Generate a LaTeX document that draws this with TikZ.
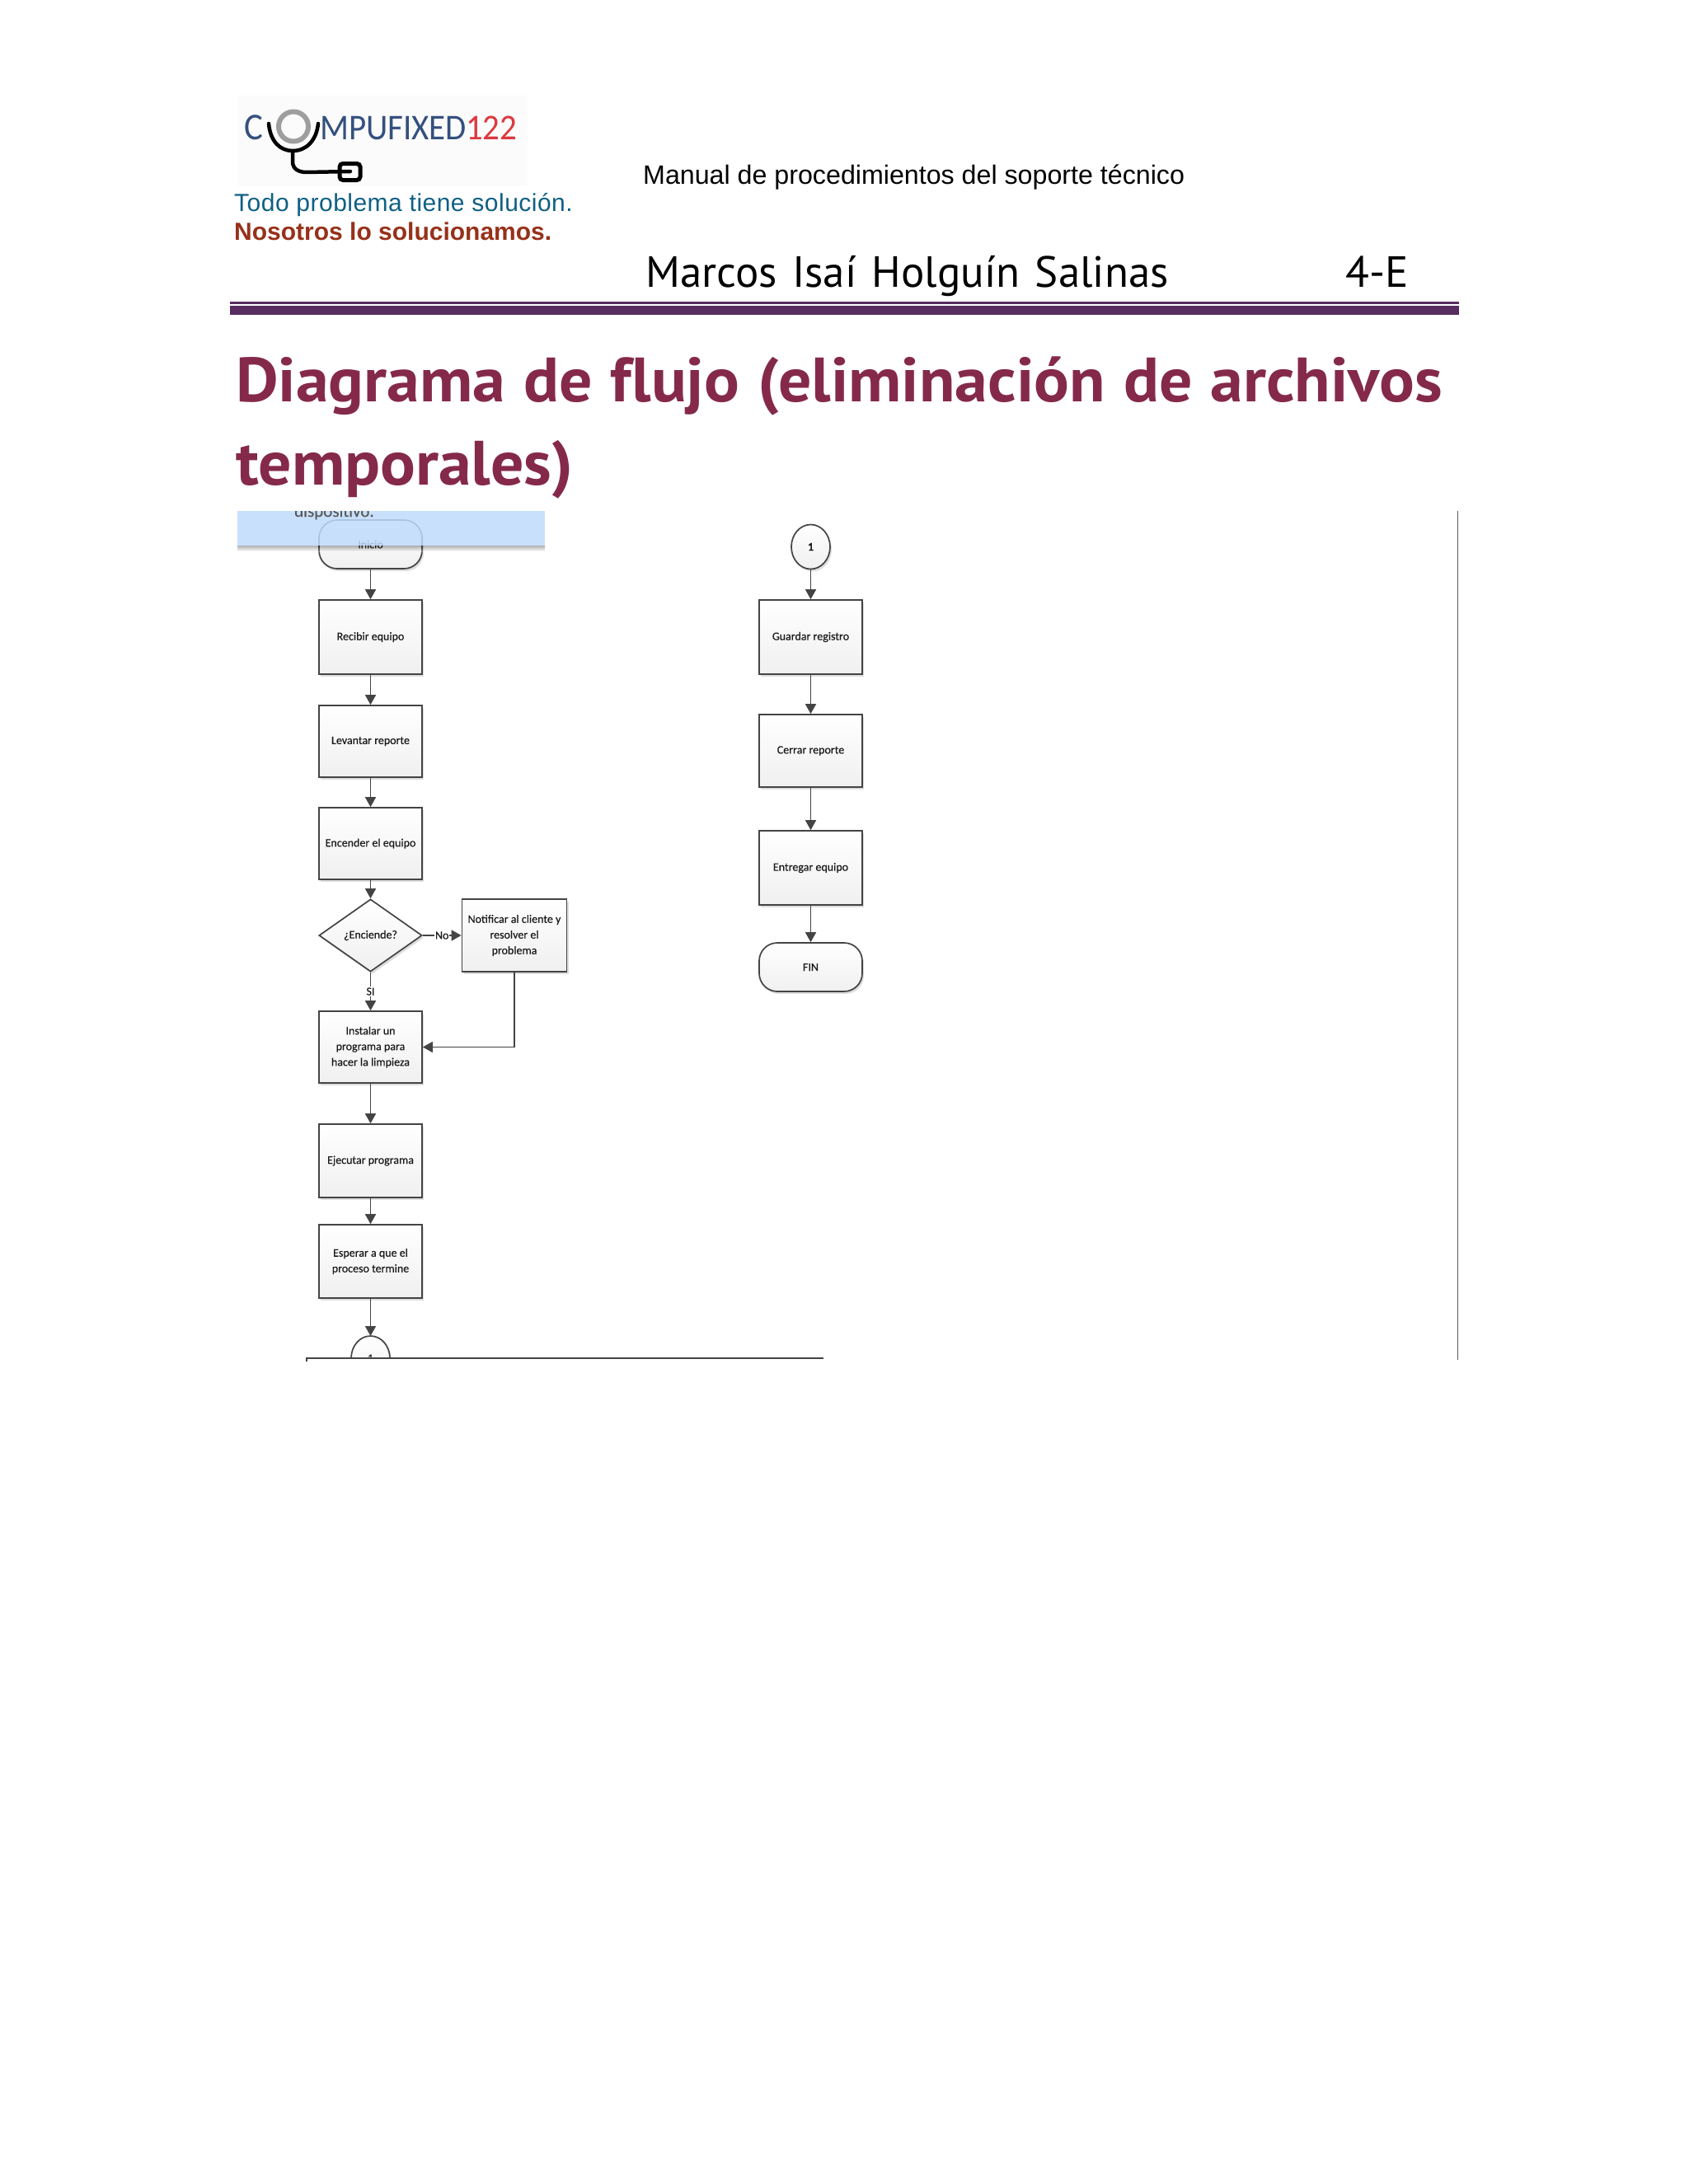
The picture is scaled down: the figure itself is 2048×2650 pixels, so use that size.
\documentclass[tikz,border=0pt]{standalone}
\usepackage{fontspec}
\setmainfont{Liberation Sans}
\newfontfamily\boxfont{Carlito}[FakeBold=0.25]
\newfontfamily\logofont{Carlito}[FakeStretch=0.93]
\newfontfamily\headfont{PT Sans}[Ligatures=NoCommon,WordSpace=1.3]
\newfontfamily\titlefont{PT Sans}[Ligatures=NoCommon,FakeStretch=1.05,WordSpace=1.1]
\newfontfamily\tagfont{Liberation Sans}[LetterSpace=1.6]
\usetikzlibrary{arrows.meta,shapes.geometric,shadows,calc}
\definecolor{edgeC}{HTML}{444444}
\definecolor{ruleC}{HTML}{572C5F}
\definecolor{titleC}{HTML}{85294B}
\definecolor{tealC}{HTML}{0F6084}
\definecolor{rustC}{HTML}{97311A}
\definecolor{navyC}{HTML}{34507F}
\definecolor{redC}{HTML}{DB3A3F}
\definecolor{bandC}{HTML}{BFDBFB}
\tikzset{
  x=1pt,y=-1pt,
  softshadow/.style={drop shadow={shadow xshift=2pt,shadow yshift=-3pt,fill=black,opacity=.13}},
  flowbase/.style={draw=edgeC,line width=1.7pt,top color=white,bottom color=black!6,text=black!90,align=center,
    font=\boxfont\fontsize{14}{19}\selectfont,softshadow,inner sep=0pt},
  procbox/.style={flowbase,rectangle,minimum width=125pt},
  termbox/.style={flowbase,rectangle,rounded corners=22pt,minimum width=125pt,minimum height=59pt},
  decbox/.style={flowbase,diamond,minimum width=125pt,minimum height=88pt,aspect=1.42},
  connbox/.style={flowbase,ellipse,minimum width=47pt,minimum height=54pt},
  flowarrow/.style={draw=edgeC,line width=1.7pt,-{Triangle[length=12pt,width=13pt]}},
  flowlabel/.style={font=\boxfont\fontsize{14}{19}\selectfont,text=black!90,fill=white,inner sep=1pt},
  plain/.style={inner sep=0pt,anchor=base west},
}
\begin{document}
\begin{tikzpicture}
\useasboundingbox (0,0) rectangle (2048,2650);
\fill[white] (0,0) rectangle (2048,2650);
% logo
\fill[black!1.5] (288,116) rectangle (640,225);
\node[plain,text=navyC,font=\logofont\fontsize{46}{46}\selectfont] (logoc) at (296,169) {C};
\node[plain,text=navyC,font=\logofont\fontsize{44}{44}\selectfont] (logom) at (388,169) {MPUFIXED};
\node[plain,text=redC,font=\logofont\fontsize{44}{44}\selectfont] (logor) at (565,169) {122};
\draw[black!38,line width=6pt] (356,153.5) circle[radius=18];
\draw[black,line width=4.5pt,line cap=round] (326,150) .. controls (328,172) and (340,183) .. (355,183) .. controls (372,183) and (384,170) .. (386,150);
\draw[black,line width=4.5pt,line cap=round] (355,183) -- (355,196) .. controls (355,205) and (362,209) .. (372,209) -- (425,208);
\draw[black,line width=5pt,rounded corners=4pt] (412,198.5) rectangle (437,218.5);
% header text
\node[plain,text=tealC,font=\tagfont\fontsize{30}{30}\selectfont] (tag1) at (284,256) {Todo problema tiene solución.};
\node[plain,text=rustC,font=\bfseries\fontsize{30}{30}\selectfont] (tag2) at (284,291) {Nosotros lo solucionamos.};
\node[plain,text=black,font=\fontsize{32.2}{32}\selectfont] (manual) at (780,223) {Manual de procedimientos del soporte técnico};
\node[plain,text=black,font=\headfont\fontsize{53}{53}\selectfont] (autor) at (783,348) {Marcos Isaí Holguín Salinas};
\node[plain,text=black,font=\headfont\fontsize{53}{53}\selectfont] (grupo) at (1632,348) {4-E};
\fill[ruleC] (279,366) rectangle (1770,369);
\fill[ruleC] (279,371) rectangle (1770,382);
\node[plain,text=titleC,font=\titlefont\bfseries\fontsize{76}{76}\selectfont] (tit1) at (286,487) {Diagrama de flujo (eliminación de archivos};
\node[plain,text=titleC,font=\titlefont\bfseries\fontsize{76}{76}\selectfont] (tit2) at (286,588) {temporales)};
% frame
\draw[black!65,line width=1.2pt] (1768.5,620) -- (1768.5,1650);
% left column
\node[termbox] (inicio) at (449.5,660.5) {Inicio};
\node[procbox,minimum height=90pt] (recibir) at (449.5,773) {Recibir equipo};
\node[procbox,minimum height=87pt] (levantar) at (449.5,899.5) {Levantar reporte};
\node[procbox,minimum height=87pt] (encender) at (449.5,1023.5) {Encender el equipo};
\node[decbox] (enciende) at (449.5,1135) {¿Enciende?};
\node[procbox,minimum height=88pt,minimum width=127pt] (notificar) at (624,1135) {Notificar al cliente y\\resolver el\\problema};
\node[procbox,minimum height=87pt] (instalar) at (449.5,1270.5) {Instalar un\\programa para\\hacer la limpieza};
\node[procbox,minimum height=89pt] (ejecutar) at (449.5,1408.5) {Ejecutar programa};
\node[procbox,minimum height=89pt] (esperar) at (449.5,1530.5) {Esperar a que el\\proceso termine};
\begin{scope}
\clip (340,1600) rectangle (560,1648);
\node[connbox] (conA) at (449.5,1648) {1};
\end{scope}
\coordinate (conAtop) at (449.5,1621);
\draw[flowarrow] (inicio) -- (recibir);
\draw[flowarrow] (recibir) -- (levantar);
\draw[flowarrow] (levantar) -- (encender);
\draw[flowarrow] (encender) -- (enciende);
\draw[flowarrow] (enciende) -- (notificar) node[midway,flowlabel] {No};
\draw[flowarrow] (enciende) -- (instalar) node[midway,flowlabel] {SI};
\draw[flowarrow] (notificar.south) |- (instalar.east);
\draw[flowarrow] (instalar) -- (ejecutar);
\draw[flowarrow] (ejecutar) -- (esperar);
\draw[flowarrow] (esperar) -- (conAtop);
\draw[edgeC,line width=1.5pt] (372,1652) -- (372,1648) -- (999,1648);
% band over the start node
\shade[top color=black,bottom color=white,opacity=.3] (288,662) rectangle (661,669);
\fill[bandC,opacity=.85] (288,620) rectangle (661,662);
\begin{scope}
\clip (340,620) rectangle (560,662);
\node[plain,text=black!65,font=\boxfont\fontsize{21}{21}\selectfont] (dispo) at (357,627) {dispositivo.};
\end{scope}
% right column
\node[connbox,font=\boxfont\bfseries\fontsize{14}{19}\selectfont] (conB) at (983.5,663.5) {1};
\node[procbox,minimum height=90pt] (guardar) at (983.5,773) {Guardar registro};
\node[procbox,minimum height=88pt] (cerrar) at (983.5,911) {Cerrar reporte};
\node[procbox,minimum height=90pt] (entregar) at (983.5,1053) {Entregar equipo};
\node[termbox] (fin) at (983.5,1173.5) {FIN};
\draw[flowarrow] (conB) -- (guardar);
\draw[flowarrow] (guardar) -- (cerrar);
\draw[flowarrow] (cerrar) -- (entregar);
\draw[flowarrow] (entregar) -- (fin);
\end{tikzpicture}
\end{document}
